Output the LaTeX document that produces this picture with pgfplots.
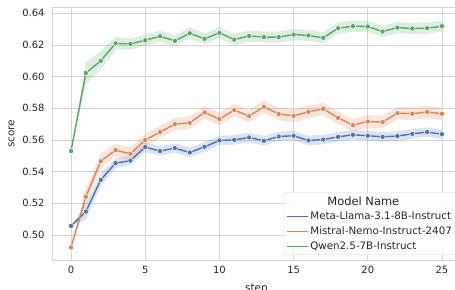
\documentclass[border=0pt]{standalone}
\usepackage{pgfplots}
\pgfplotsset{compat=1.18}
\usepackage{pgfplotstable}
\usepgfplotslibrary{fillbetween}
\usepackage{fontspec}
\setmainfont{DejaVu Sans}
\definecolor{cblue}{HTML}{4C72B0}
\definecolor{corange}{HTML}{DD8452}
\definecolor{cgreen}{HTML}{55A868}
\definecolor{gridc}{HTML}{D5D5D5}
\definecolor{txt}{HTML}{262626}

\pgfplotstableread{
x y lo hi
0 0.5057 0.5057 0.5057
1 0.5148 0.5098 0.5198
2 0.5348 0.5308 0.5388
3 0.5454 0.5424 0.5484
4 0.5470 0.5440 0.5500
5 0.5555 0.5525 0.5585
6 0.5530 0.5500 0.5560
7 0.5549 0.5519 0.5579
8 0.5521 0.5491 0.5551
9 0.5557 0.5527 0.5587
10 0.5597 0.5567 0.5627
11 0.5601 0.5571 0.5631
12 0.5616 0.5586 0.5646
13 0.5595 0.5565 0.5625
14 0.5622 0.5592 0.5652
15 0.5627 0.5597 0.5657
16 0.5597 0.5567 0.5627
17 0.5603 0.5573 0.5633
18 0.5620 0.5590 0.5650
19 0.5633 0.5603 0.5663
20 0.5627 0.5597 0.5657
21 0.5620 0.5590 0.5650
22 0.5625 0.5595 0.5655
23 0.5639 0.5609 0.5669
24 0.5650 0.5620 0.5680
25 0.5637 0.5607 0.5667
}\llama

\pgfplotstableread{
x y lo hi
0 0.4922 0.4922 0.4922
1 0.5242 0.5192 0.5292
2 0.5466 0.5416 0.5516
3 0.5536 0.5496 0.5576
4 0.5513 0.5473 0.5553
5 0.5600 0.5560 0.5640
6 0.5650 0.5610 0.5690
7 0.5700 0.5660 0.5740
8 0.5709 0.5669 0.5749
9 0.5774 0.5734 0.5814
10 0.5732 0.5692 0.5772
11 0.5789 0.5749 0.5829
12 0.5751 0.5711 0.5791
13 0.5810 0.5770 0.5850
14 0.5764 0.5724 0.5804
15 0.5753 0.5713 0.5793
16 0.5778 0.5738 0.5818
17 0.5797 0.5757 0.5837
18 0.5740 0.5700 0.5780
19 0.5694 0.5654 0.5734
20 0.5717 0.5677 0.5757
21 0.5713 0.5673 0.5753
22 0.5770 0.5730 0.5810
23 0.5766 0.5726 0.5806
24 0.5777 0.5737 0.5817
25 0.5766 0.5726 0.5806
}\mistral

\pgfplotstableread{
x y lo hi
0 0.5530 0.5530 0.5530
1 0.6023 0.5953 0.6093
2 0.6100 0.6040 0.6160
3 0.6210 0.6170 0.6250
4 0.6207 0.6172 0.6242
5 0.6230 0.6195 0.6265
6 0.6255 0.6220 0.6290
7 0.6226 0.6191 0.6261
8 0.6274 0.6239 0.6309
9 0.6239 0.6204 0.6274
10 0.6277 0.6242 0.6312
11 0.6234 0.6199 0.6269
12 0.6257 0.6222 0.6292
13 0.6250 0.6215 0.6285
14 0.6250 0.6215 0.6285
15 0.6266 0.6231 0.6301
16 0.6260 0.6225 0.6295
17 0.6245 0.6210 0.6280
18 0.6306 0.6271 0.6341
19 0.6319 0.6284 0.6354
20 0.6317 0.6282 0.6352
21 0.6285 0.6250 0.6320
22 0.6310 0.6275 0.6345
23 0.6304 0.6269 0.6339
24 0.6306 0.6271 0.6341
25 0.6319 0.6284 0.6354
}\qwen

\begin{document}
\begin{tikzpicture}
\begin{axis}[
  scale only axis,
  width=408bp, height=253.5bp,
  xmin=-1.25, xmax=26.25,
  ymin=0.4839, ymax=0.644,
  xtick={0,5,10,15,20,25},
  ytick={0.50,0.52,0.54,0.56,0.58,0.60,0.62,0.64},
  yticklabel style={/pgf/number format/fixed, /pgf/number format/fixed zerofill, /pgf/number format/precision=2, xshift=-4.5bp},
  /pgf/number format/assume math mode=true,
  major tick length=0pt,
  grid=major,
  major grid style={draw=gridc, line width=0.9bp},
  axis line style={draw=gridc, line width=0.9bp},
  ticklabel style={font=\fontsize{10}{12}\selectfont, text=txt},
  xticklabel style={yshift=-2bp},
  xlabel={step}, ylabel={score},
  label style={font=\fontsize{10.5}{12}\selectfont, text=txt},
  xlabel style={at={(axis description cs:0.5,0)}, anchor=center, yshift=-28.5bp},
  ylabel style={at={(axis description cs:-0.1005,0.5)}, anchor=center, rotate=0},
  legend cell align=left,
  legend style={at={(1,0)}, anchor=south east, xshift=-4.5bp, yshift=5.5bp,
    draw=gridc, fill=white, fill opacity=0.85, text opacity=1, rounded corners=2bp,
    font=\fontsize{10.3}{12}\selectfont, text=txt, row sep=1.5bp, inner xsep=2bp, inner ysep=2bp},
  legend image code/.code={\draw[#1] (0bp,0bp) -- (21bp,0bp);},
]
% bands
\addplot[draw=none, forget plot, name path=lhi] table[x=x,y=hi]{\llama};
\addplot[draw=none, forget plot, name path=llo] table[x=x,y=lo]{\llama};
\addplot[cblue, fill opacity=0.2, draw=none, forget plot] fill between[of=lhi and llo];
\addplot[draw=none, forget plot, name path=mhi] table[x=x,y=hi]{\mistral};
\addplot[draw=none, forget plot, name path=mlo] table[x=x,y=lo]{\mistral};
\addplot[corange, fill opacity=0.2, draw=none, forget plot] fill between[of=mhi and mlo];
\addplot[draw=none, forget plot, name path=qhi] table[x=x,y=hi]{\qwen};
\addplot[draw=none, forget plot, name path=qlo] table[x=x,y=lo]{\qwen};
\addplot[cgreen, fill opacity=0.2, draw=none, forget plot] fill between[of=qhi and qlo];
% lines
\addplot[cblue, line width=1.4bp, mark=*, mark size=2.6bp, mark options={fill=cblue, draw=white, line width=0.5bp}, forget plot] table[x=x,y=y]{\llama};
\addplot[corange, line width=1.4bp, mark=*, mark size=2.6bp, mark options={fill=corange, draw=white, line width=0.5bp}, forget plot] table[x=x,y=y]{\mistral};
\addplot[cgreen, line width=1.4bp, mark=*, mark size=2.6bp, mark options={fill=cgreen, draw=white, line width=0.5bp}, forget plot] table[x=x,y=y]{\qwen};
% legend
\addlegendimage{empty legend}
\addlegendentry{\hspace*{17bp}\fontsize{11.5}{13}\selectfont Model Name}
\addlegendimage{cblue, line width=1.4bp}
\addlegendentry{Meta-Llama-3.1-8B-Instruct}
\addlegendimage{corange, line width=1.4bp}
\addlegendentry{Mistral-Nemo-Instruct-2407}
\addlegendimage{cgreen, line width=1.4bp}
\addlegendentry{Qwen2.5-7B-Instruct}
\end{axis}
\pgfresetboundingbox
\useasboundingbox (-52.5bp,-29.5bp) rectangle (402.5bp,260.5bp);
\end{tikzpicture}
\end{document}
